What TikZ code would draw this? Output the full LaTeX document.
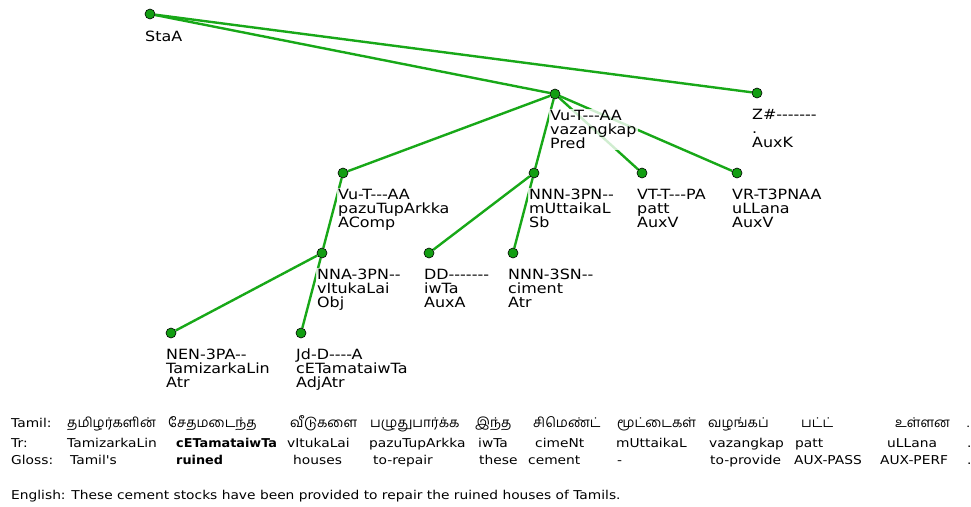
\documentclass[tikz,border=0pt]{standalone}
\usepackage{fontspec}
\setmainfont{DejaVu Sans}[Ligatures=TeXOff, FakeStretch=1.13]
\newfontfamily\rowbf{DejaVu Sans Bold}[Ligatures=TeXOff, FakeStretch=1.05]
\newfontfamily\tamilfont[Script=Tamil]{Hind Madurai}
\usepackage{tikz}
\usetikzlibrary{positioning,backgrounds}

\definecolor{nodegreen}{RGB}{18,158,18}
\definecolor{edgegreen}{RGB}{24,168,24}

\begin{document}
\begin{tikzpicture}[
    x=1pt, y=-1pt,
    tnode/.style={circle, draw=black, line width=0.6pt, fill=nodegreen, inner sep=0pt, minimum size=10pt},
    tlabel/.style={align=left, inner sep=1pt, font=\fontsize{14.1}{14}\selectfont, fill=white, fill opacity=0.8, text opacity=1},
    edge/.style={edgegreen, line width=2.4pt},
    row/.style={anchor=base west, inner sep=0pt, font=\fontsize{12.2}{16}\selectfont}
]
\useasboundingbox (0,0) rectangle (971,506);

% Tree nodes
\node[tnode] (sta) at (150,14) {};
\node[tnode] (pred) at (555,94) {};
\node[tnode] (auxk) at (757,93) {};
\node[tnode] (acomp) at (343,173) {};
\node[tnode] (sb) at (534,173) {};
\node[tnode] (patt) at (642,173) {};
\node[tnode] (ullana) at (737,173) {};
\node[tnode] (obj) at (322,253) {};
\node[tnode] (auxa) at (429,253) {};
\node[tnode] (atrc) at (513,253) {};
\node[tnode] (atrt) at (171,333) {};
\node[tnode] (adjatr) at (301,333) {};

% Node labels
\node[tlabel, below right=16pt and -6pt of sta.center] (stalab) {StaA};
\node[tlabel, below right=15pt and -6pt of pred.center] (predlab) {Vu-T---AA\\vazangkap\\Pred};
\node[tlabel, below right=15pt and -6pt of auxk.center] (auxklab) {Z\#-------\\.\\AuxK};
\node[tlabel, below right=15pt and -6pt of acomp.center] (acomplab) {Vu-T---AA\\pazuTupArkka\\AComp};
\node[tlabel, below right=15pt and -6pt of sb.center] (sblab) {NNN-3PN--\\mUttaikaL\\Sb};
\node[tlabel, below right=15pt and -6pt of patt.center] (pattlab) {VT-T---PA\\patt\\AuxV};
\node[tlabel, below right=15pt and -6pt of ullana.center] (ullanalab) {VR-T3PNAA\\uLLana\\AuxV};
\node[tlabel, below right=15pt and -6pt of obj.center] (objlab) {NNA-3PN--\\vItukaLai\\Obj};
\node[tlabel, below right=15pt and -6pt of auxa.center] (auxalab) {DD-------\\iwTa\\AuxA};
\node[tlabel, below right=15pt and -6pt of atrc.center] (atrclab) {NNN-3SN--\\ciment\\Atr};
\node[tlabel, below right=15pt and -6pt of atrt.center] (atrtlab) {NEN-3PA--\\TamizarkaLin\\Atr};
\node[tlabel, below right=15pt and -6pt of adjatr.center] (adjatrlab) {Jd-D----A\\cETamataiwTa\\AdjAtr};

% Edges
\begin{scope}[on background layer]
\draw[edge] (sta) -- (pred);
\draw[edge] (sta) -- (auxk);
\draw[edge] (pred) -- (acomp);
\draw[edge] (pred) -- (sb);
\draw[edge] (pred) -- (patt);
\draw[edge] (pred) -- (ullana);
\draw[edge] (acomp) -- (obj);
\draw[edge] (obj) -- (atrt);
\draw[edge] (obj) -- (adjatr);
\draw[edge] (sb) -- (auxa);
\draw[edge] (sb) -- (atrc);
\end{scope}

% Interlinear rows
\node[row] (tamilhd) at (11,427) {Tamil:};
\node[row] (trhd) at (11,447) {Tr:};
\node[row] (glosshd) at (11,464) {Gloss:};
\foreach \x/\w [count=\i] in {67/தமிழர்களின், 168/சேதமடைந்த, 290/வீடுகளை, 370/பழுதுபார்க்க, 475/இந்த, 533/சிமெண்ட், 617/மூட்டைகள், 708/வழங்கப், 801/பட்ட், 895/உள்ளன, 967/.}
    \node[row, font=\fontsize{13.5}{16}\selectfont] (tam\i) at (\x,427) {\tamilfont\w};
\foreach \x/\w [count=\i] in {67/TamizarkaLin, 176/{\rowbf cETamataiwTa}, 287/vItukaLai, 369/pazuTupArkka, 478/iwTa, 535/cimeNt, 616/mUttaikaL, 709/vazangkap, 795/patt, 887/uLLana, 967/.}
    \node[row] (tr\i) at (\x,447) {\w};
\foreach \x/\w [count=\i] in {70/Tamil's, 176/{\rowbf ruined}, 293/houses, 373/to-repair, 479/these, 528/cement, 617/-, 710/to-provide, 794/AUX-PASS, 880/AUX-PERF, 967/.}
    \node[row] (gl\i) at (\x,464) {\w};

% Translation
\node[row] (english) at (11,499) {English: These cement stocks have been provided to repair the ruined houses of Tamils.};

\end{tikzpicture}
\end{document}
